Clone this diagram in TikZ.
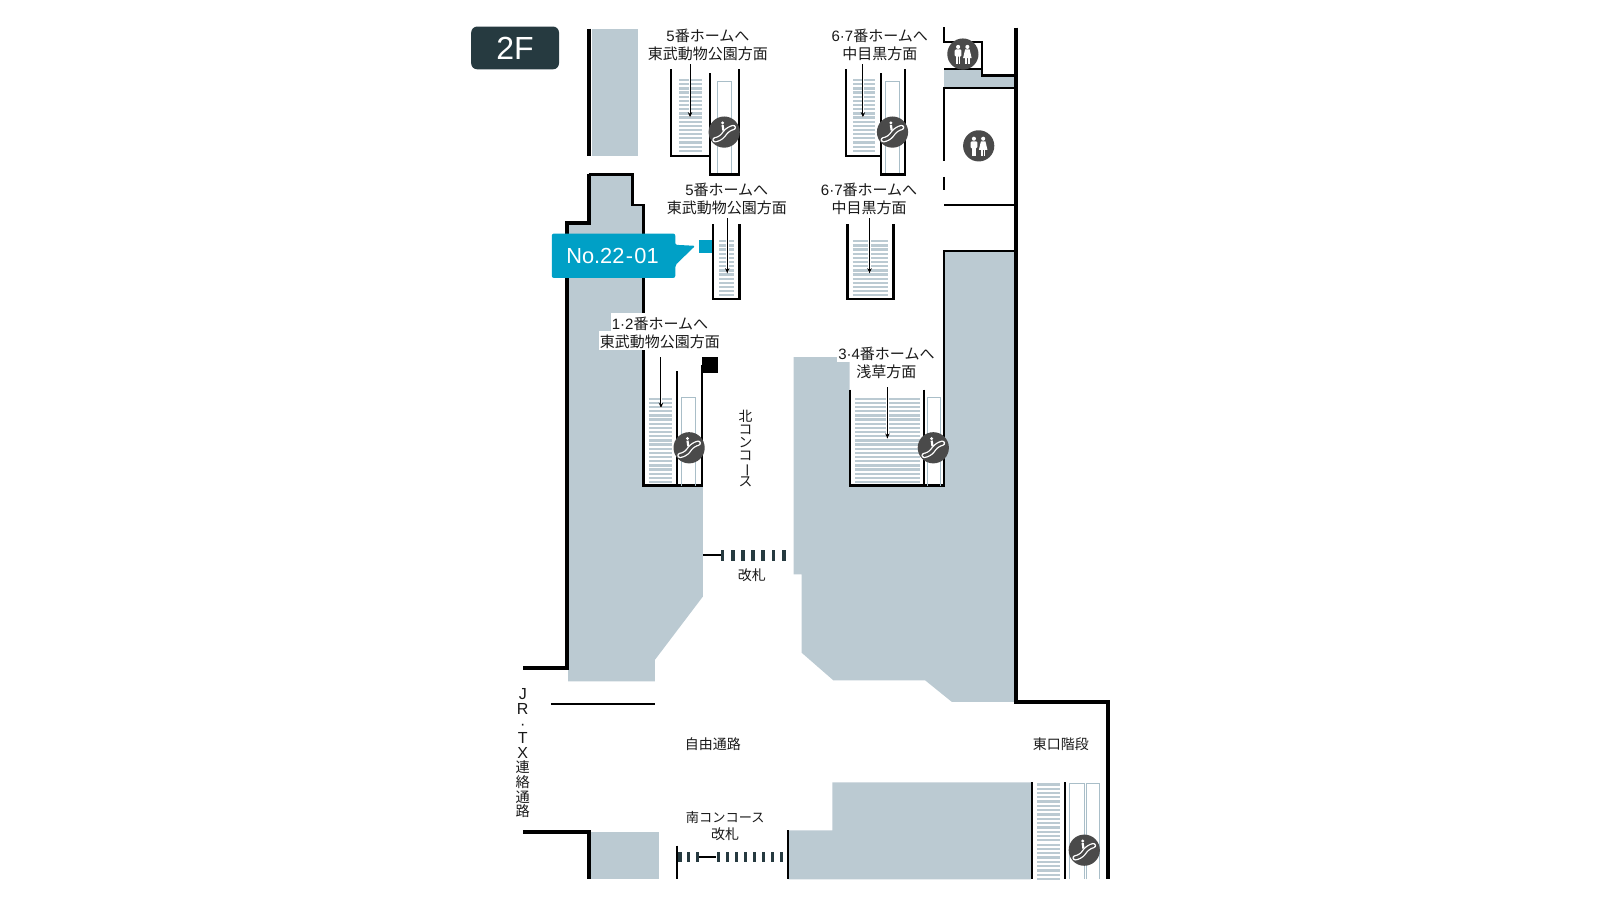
\documentclass[tikz,border=0pt]{standalone}
\usepackage{fontspec}
\usepackage{graphicx}
\usetikzlibrary{arrows.meta}
\setmainfont{Noto Sans CJK JP}
\newfontfamily\latinf{Liberation Sans}
\lineskiplimit=-100pt
\normallineskiplimit=-100pt
\definecolor{greyblock}{HTML}{BBCAD2}
\definecolor{escbox}{HTML}{A9BEC8}
\definecolor{darkbox}{HTML}{263A40}
\definecolor{calloutblue}{HTML}{00A0C6}
\definecolor{iconfill}{HTML}{4A4A4A}
\newcommand{\lt}[1]{{\latinf #1}}
\newcommand{\jrl}[1]{{\latinf\fontsize{8pt}{7.3pt}\selectfont #1}}
\newcommand{\stairsteps}[5]{%
  \pgfmathsetmacro{\mylast}{#4}%
  \pgfmathsetmacro{\mysec}{#3+#5}%
  \foreach \yy in {#3,\mysec,...,\mylast}{\draw[treadline] (#1,\yy) -- (#2,\yy);}}
\tikzset{
  block/.style={fill=greyblock,draw=none},
  thickwall/.style={draw=black,line width=2pt,line cap=butt,line join=miter},
  wall/.style={draw=black,line width=1.15pt,line cap=butt,line join=miter},
  treadline/.style={draw=greyblock,line width=1.15pt},
  escinner/.style={draw=escbox,line width=0.5pt},
  downarrow/.style={draw=black,line width=0.5pt,-{Stealth[length=2.6pt,width=2.2pt]},preaction={draw=white,line width=1.4pt,-}},
  gatedash/.style={fill=darkbox,draw=none},
  lbl/.style={font=\fontsize{7.5pt}{9pt}\selectfont,text=black!90,inner sep=0pt,align=center},
  lblsmall/.style={font=\fontsize{7pt}{8.5pt}\selectfont,text=black!90,inner sep=0pt,align=center},
  halo/.style={fill=white,inner sep=0.5pt,text height=0.8em,text depth=0.08em},
  vtext/.style={font=\fontsize{6.9pt}{6.5pt}\selectfont,text=black!90,inner sep=0pt,align=center},
  vtextjr/.style={font=\fontsize{7.1pt}{7.3pt}\selectfont,text=black!90,inner sep=0pt,align=center},
  escicon/.pic={
    \fill[iconfill] (0,0) circle (15.3);
    \draw[white,line width=2.7pt,line cap=round,line join=round,rounded corners=2.5pt] (-9,7.5) -- (-4,7) -- (4,-3.5) -- (9,-4.5);
    \draw[iconfill,line width=1.4pt,line cap=round,line join=round,rounded corners=2.5pt] (-9,7.5) -- (-4,7) -- (4,-3.5) -- (9,-4.5);
    \fill[white] (-1.6,-9) circle (1.6);
    \draw[white,line width=1.1pt] (-1.6,-7) -- (-0.8,-1.5);
  },
  wcicon/.pic={
    \fill[iconfill] (0,0) circle (15.3);
    \fill[white] (-4.7,-7) circle (2);
    \fill[white,rounded corners=0.6pt] (-8,-4.5) rectangle (-1.4,2.5);
    \fill[white] (-6.8,2) rectangle (-5.1,9.5);
    \fill[white] (-4.3,2) rectangle (-2.6,9.5);
    \fill[white] (4.4,-7) circle (2);
    \fill[white] (2.2,-4.5) -- (6.6,-4.5) -- (8.6,4) -- (0.2,4) -- cycle;
    \fill[white] (2.3,3.5) rectangle (3.9,9.5);
    \fill[white] (4.9,3.5) rectangle (6.5,9.5);
  }
}
\begin{document}
\begin{tikzpicture}[x=0.51pt,y=-0.51pt]
\useasboundingbox (0,0) rectangle (1568.63,882.35);
% grey blocks
\fill[block] (580,28) rectangle (625,153);
\fill[block] (578,171) -- (620,171) -- (620,201) -- (631,201) -- (631,476) -- (689,476) -- (689,585) -- (642,647) -- (642,668) -- (557,668) -- (557,219) -- (578,219) -- cycle;
\fill[block] (926,246) -- (996,246) -- (996,688) -- (933,688) -- (907,667) -- (817,667) -- (786,640) -- (786,563) -- (778,563) -- (778,350) -- (833,350) -- (833,476) -- (926,476) -- cycle;
\fill[block] (925.5,68) -- (962.7,68) -- (962.7,74) -- (996,74) -- (996,86) -- (925.5,86) -- cycle;
\fill[block] (579,816) rectangle (646,862);
\fill[block] (773,814) -- (816,814) -- (816,767) -- (1011,767) -- (1011,862) -- (773,862) -- cycle;
% outer thick walls
\draw[thickwall] (577,28) -- (577,153);
\draw[thickwall] (577,171) -- (577,219) -- (556,219) -- (556,655) -- (513,655);
\draw[thickwall] (996.5,27) -- (996.5,688) -- (1086,688) -- (1086,862);
\draw[thickwall] (513,816) -- (577,816) -- (577,862);
% inner walls
\draw[wall] (577,171) -- (620,171) -- (620,201) -- (631,201) -- (631,476) -- (689,476);
\draw[wall] (688.5,477) -- (688.5,358);
\draw[wall] (663.6,476) -- (663.6,364);
\draw[wall] (833,382) -- (833,476) -- (926,476);
\draw[wall] (906,382) -- (906,476);
\draw[wall] (925.5,476) -- (925.5,246) -- (996,246);
\draw[wall] (925.5,26.5) -- (925.5,41.5) -- (962.7,41.5) -- (962.7,74) -- (996,74);
\draw[wall] (925.5,67.6) -- (962.7,67.6);
\draw[wall] (996,86) -- (925.5,86) -- (925.5,157.5);
\draw[wall] (925.5,173.5) -- (925.5,186);
\draw[wall] (925.5,201) -- (996,201);
\draw[wall] (540,690) -- (642,690);
\draw[wall] (664,829) -- (664,862);
\draw[wall] (772.6,814) -- (772.6,862);
\draw[wall] (1012,767) -- (1012,862);
\draw[wall] (1044.4,767) -- (1044.4,862);
% stair A: 5 top
\stairsteps{666}{688}{78.5}{148}{4.08}
\draw[escinner] (703,171) -- (703,80) -- (717,80) -- (717,171);
\draw[wall] (658,68) -- (658,153) -- (696,153);
\draw[wall] (696,72) -- (696,171) -- (724.5,171) -- (724.5,68);
% stair B: 6-7 top
\stairsteps{836.5}{858}{78.5}{148}{4.08}
\draw[escinner] (868.5,171) -- (868.5,80) -- (882,80) -- (882,171);
\draw[wall] (829.6,68) -- (829.6,153) -- (864,153);
\draw[wall] (864,72) -- (864,171) -- (887,171) -- (887,68);
% stair C: 5 centre
\stairsteps{705}{720}{236.5}{290}{4.08}
\draw[wall] (699,220) -- (699,293) -- (725,293) -- (725,220);
% stair D: 6-7 centre
\stairsteps{836}{871}{236.5}{290}{4.08}
\draw[wall] (831,220) -- (831,293) -- (876,293) -- (876,220);
% stair E: 1-2
\stairsteps{636}{659}{391}{473}{4.08}
\draw[escinner] (668.6,476) -- (668.6,390) -- (682,390) -- (682,476);
% stair F: 3-4
\stairsteps{838.5}{902}{391}{473}{4.08}
\draw[escinner] (909.5,476) -- (909.5,390) -- (922,390) -- (922,476);
% stair G: east
\stairsteps{1017}{1039}{769}{862}{4.22}
\draw[escinner] (1049,862) -- (1049,768) -- (1063,768) -- (1063,862);
\draw[escinner] (1065,862) -- (1065,768) -- (1077.7,768) -- (1077.7,862);
% black square
\fill[black] (688,350) rectangle (704,366);
% north gate
\draw[wall] (689,544) -- (707,544);
\foreach \gx in {706.5,716.5,...,767}{\fill[gatedash] (\gx,539) rectangle ++(3.6,11);}
% south gate
\foreach \gz in {85,111,138,200,228,255,282,309,336,363,390}{
  \pgfmathsetmacro{\gx}{(\gz/3+650)/1.02}
  \fill[gatedash] (\gx,835) rectangle ++(3.4,10);}
\draw[wall] (685,840) -- (702,840);
% icons
\pic at (710,129.5) {escicon};
\pic at (875,129.5) {escicon};
\pic at (675.6,439) {escicon};
\pic at (915,439) {escicon};
\pic at (1063,833.5) {escicon};
\pic at (944,53) {wcicon};
\pic at (959.5,143) {wcicon};
% floor tag
\node[name=floortag,fill=darkbox,rounded corners=3pt,minimum width=43.9pt,minimum height=21.4pt,inner sep=0pt,text=white,font=\latinf\fontsize{16pt}{16pt}\selectfont] at (505,47) {2F};
% callout
\fill[calloutblue] (685,235) rectangle (698,248);
\fill[calloutblue,rounded corners=1pt] (541,229) -- (662,229) -- (662,240) -- (681.6,241) -- (662,260) -- (662,272.5) -- (541,272.5) -- cycle;
\node[name=callout,text=white,inner sep=0pt,font=\latinf\fontsize{10.9pt}{12pt}\selectfont] at (600.5,250.5) {No.22\kern0.7pt-\kern0.7pt01};
% labels
\node[lbl,name=l5top] at (694,44) {\lt{5}番ホームへ\\東武動物公園方面};
\node[lbl,name=l67top] at (862.5,44) {\lt{6·7}番ホームへ\\中目黒方面};
\node[lbl,name=l5mid] at (712.5,195) {\lt{5}番ホームへ\\東武動物公園方面};
\node[lbl,name=l67mid] at (852,195) {\lt{6·7}番ホームへ\\中目黒方面};
\node[lbl,halo,name=l12a] at (647,316) {\lt{1·2}番ホームへ};
\node[lbl,halo,name=l12] at (647,334) {東武動物公園方面};
\node[lbl,halo,name=l34a] at (869,345) {\lt{3·4}番ホームへ};
\node[lbl,halo,name=l34] at (869,363.5) {浅草方面};
\node[vtext,name=vnorth] at (731,440) {北\\コ\\ン\\コ\\\rotatebox[origin=c]{-90}{ー}\\ス};
\node[vtextjr,name=vjr] at (512.5,738.5) {\jrl{J}\\\jrl{R}\\\jrl{·}\\\jrl{T}\\\jrl{X}\\連\\絡\\通\\路};
\node[lblsmall,name=lgate] at (737,564) {改札};
\node[lblsmall,name=lfree] at (699,730) {自由通路};
\node[lblsmall,name=least] at (1040,730) {東口階段};
\node[lblsmall,name=lsouth] at (711,810) {{\fontsize{6.6pt}{8.5pt}\selectfont 南コンコース}\\改札};
% arrows
\coordinate (a5t) at (676.5,115);
\coordinate (a67t) at (846,115);
\coordinate (a5m) at (713,268);
\coordinate (a67m) at (852.5,268);
\coordinate (a12) at (648,400);
\coordinate (a34) at (870,430);
\draw[downarrow] (l5top.south -| a5t) ++(0,3) -- (a5t);
\draw[downarrow] (l67top.south -| a67t) ++(0,3) -- (a67t);
\draw[downarrow] (l5mid.south -| a5m) ++(0,3) -- (a5m);
\draw[downarrow] (l67mid.south -| a67m) ++(0,3) -- (a67m);
\draw[downarrow] (l12.south -| a12) ++(0,6) -- (a12);
\draw[downarrow] (l34.south -| a34) ++(0,6) -- (a34);
\end{tikzpicture}
\end{document}
